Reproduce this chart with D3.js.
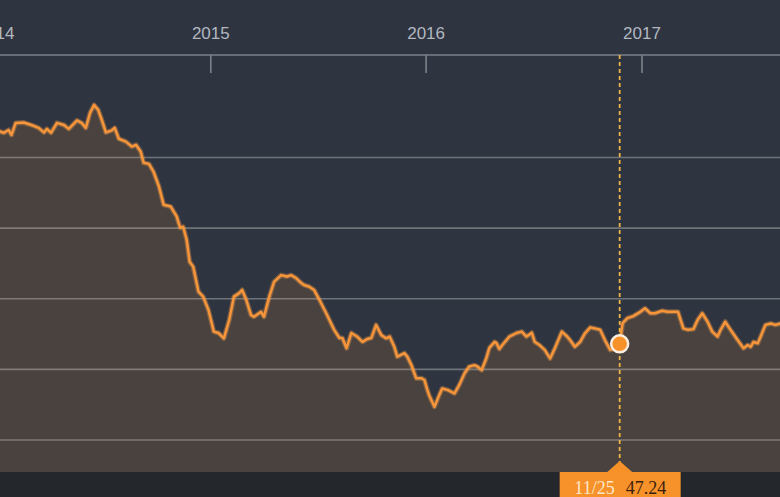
<!DOCTYPE html>
<html><head><meta charset="utf-8">
<script src="https://cdn.jsdelivr.net/npm/d3@7/dist/d3.min.js"></script>
<style>
html,body{margin:0;padding:0;background:#2d333f;overflow:hidden}
svg{display:block}
</style></head>
<body>
<svg id="chart" width="780" height="497"></svg>
<script>
const dates = ["2014-01-02","2014-01-07","2014-01-16","2014-01-24","2014-01-29","2014-02-05","2014-02-19","2014-03-04","2014-03-16","2014-03-25","2014-03-30","2014-04-06","2014-04-16","2014-04-28","2014-05-06","2014-05-20","2014-05-28","2014-06-04","2014-06-11","2014-06-18","2014-06-25","2014-07-01","2014-07-08","2014-07-17","2014-07-23","2014-07-30","2014-08-11","2014-08-21","2014-08-28","2014-09-05","2014-09-10","2014-09-19","2014-09-27","2014-10-06","2014-10-14","2014-10-26","2014-11-05","2014-11-11","2014-11-16","2014-11-22","2014-11-27","2014-12-03","2014-12-12","2014-12-20","2014-12-29",
"2015-01-07","2015-01-15","2015-01-24","2015-02-02","2015-02-10","2015-02-19","2015-02-24","2015-03-03","2015-03-11","2015-03-16","2015-03-28","2015-04-02","2015-04-11","2015-04-19","2015-05-01","2015-05-11","2015-05-18","2015-05-26","2015-06-04","2015-06-09","2015-06-18","2015-06-26","2015-07-05","2015-07-18","2015-07-30","2015-08-08","2015-08-13","2015-08-20","2015-08-28","2015-09-07","2015-09-16","2015-09-24","2015-10-01","2015-10-09","2015-10-18","2015-10-26","2015-11-01","2015-11-09","2015-11-14","2015-11-26","2015-12-01","2015-12-08","2015-12-16","2015-12-25","2015-12-30",
"2016-01-04","2016-01-07","2016-01-16","2016-01-24","2016-01-29","2016-02-07","2016-02-19","2016-02-27","2016-03-07","2016-03-15","2016-03-24","2016-03-29","2016-04-05","2016-04-13","2016-04-18","2016-04-27","2016-04-30","2016-05-05","2016-05-10","2016-05-22","2016-06-03","2016-06-12","2016-06-20","2016-06-29","2016-07-04","2016-07-12","2016-07-21","2016-07-30","2016-08-07","2016-08-19","2016-08-28","2016-09-02","2016-09-10","2016-09-19","2016-09-27","2016-10-06","2016-10-14","2016-10-23","2016-10-31","2016-11-09","2016-11-17","2016-11-25","2016-11-30","2016-12-08","2016-12-18","2016-12-30",
"2017-01-07","2017-01-16","2017-01-24","2017-02-05","2017-02-14","2017-02-24","2017-03-04","2017-03-13","2017-03-21","2017-03-30","2017-04-06","2017-04-14","2017-04-23","2017-05-01","2017-05-10","2017-05-15","2017-05-23","2017-06-01","2017-06-13","2017-06-23","2017-06-30","2017-07-05","2017-07-10","2017-07-17","2017-07-22","2017-07-30","2017-08-08","2017-08-16","2017-08-25"];

const prices = [107.3,107.5,107.0,107.8,106.4,109.8,109.9,109.2,108.4,107.1,108.1,107.0,109.8,109.2,108.1,110.5,109.8,108.4,112.6,114.9,113.5,110.7,107.1,107.6,108.4,105.3,104.5,103.1,103.6,101.7,98.5,98.2,95.9,91.8,86.6,86.1,83.3,80.1,80.4,76.7,70.5,69.1,62.0,60.6,56.8,
50.7,50.3,48.8,54.0,60.6,61.6,62.5,59.7,55.4,54.9,56.3,54.9,60.6,64.8,66.7,66.3,66.7,65.9,64.5,63.9,63.4,62.5,59.7,55.4,51.2,48.9,48.9,46.0,50.3,49.3,47.8,48.6,48.9,52.6,49.7,48.8,49.3,46.4,43.6,44.6,43.6,41.2,37.5,37.5,37.0,
34.2,32.7,29.4,32.7,34.6,34.2,33.2,35.6,38.9,40.8,41.2,40.8,39.8,43.2,46.1,47.8,47.5,45.8,46.9,49.3,50.3,50.7,49.3,50.4,47.8,46.9,45.5,43.1,46.0,50.7,49.3,48.3,46.4,47.8,50.2,51.9,51.6,51.2,48.3,45.5,46.0,47.24,53.1,54.5,55.1,56.3,
57.3,55.9,55.9,56.6,56.3,56.3,56.3,51.6,51.2,51.4,54.0,55.9,53.5,50.7,49.3,51.2,53.5,51.2,48.3,46.0,46.9,46.4,47.8,47.4,49.3,52.6,53.0,52.6,53.0];

const gridValues = [20, 40, 60, 80, 100];
const yearTicks = ["2014-01-01","2015-01-01","2016-01-01","2017-01-01"];
const hoverDate = "2016-11-25";

const W = 780, H = 497, axisY = 55, plotBottom = 472;
const parse = d3.utcParse("%Y-%m-%d");
const data = dates.map((d, i) => ({date: parse(d), value: prices[i]}));

const x = d3.scaleUtc()
  .domain([parse(yearTicks[0]), parse(yearTicks[3])])
  .range([-5, 641.5]);
const y = d3.scaleLinear().domain([20, 100]).range([440, 157.5]);

const svg = d3.select("#chart");
svg.append("rect").attr("width", W).attr("height", H).attr("fill", "#2e3440");
svg.append("rect").attr("y", plotBottom).attr("width", W).attr("height", H - plotBottom).attr("fill", "#24272c");

// area
const area = d3.area().x(d => x(d.date)).y0(plotBottom).y1(d => y(d.value));
svg.append("path").datum(data).attr("d", area).attr("fill", "#4a423f");

// gridlines
svg.append("g").selectAll("line").data(gridValues).join("line")
  .attr("x1", 0).attr("x2", W)
  .attr("y1", d => y(d)).attr("y2", d => y(d))
  .attr("stroke", "#c8c8c8").attr("stroke-opacity", 0.42).attr("stroke-width", 1.6);

// top axis
const xAxis = d3.axisBottom(x)
  .tickValues(yearTicks.map(parse))
  .tickFormat(d3.utcFormat("%Y"))
  .tickSizeInner(18).tickSizeOuter(0);
const gx = svg.append("g").attr("transform", `translate(0,${axisY})`).call(xAxis);
gx.select(".domain").remove();
gx.selectAll(".tick line").attr("stroke", "#7d828a").attr("stroke-width", 1.6);
gx.selectAll(".tick text").attr("y", -16).attr("dy", 0)
  .attr("fill", "#b3b8c0").attr("font-family", "'Liberation Sans', Arial, sans-serif").attr("font-size", 17);
svg.append("line").attr("x1", 0).attr("x2", W).attr("y1", axisY).attr("y2", axisY)
  .attr("stroke", "#7d828a").attr("stroke-width", 1.6);

// line
const line = d3.line().x(d => x(d.date)).y(d => y(d.value));
svg.append("path").datum(data).attr("d", line).attr("fill", "none")
  .attr("stroke", "#f5a04a").attr("stroke-opacity", 0.35).attr("stroke-width", 5).attr("stroke-linejoin", "round");
svg.append("path").datum(data).attr("d", line).attr("fill", "none")
  .attr("stroke", "#f7953a").attr("stroke-width", 2.5).attr("stroke-linejoin", "round");

// hover
const hd = data.find(d => +d.date === +parse(hoverDate));
const hx = x(hd.date), hy = y(hd.value);
svg.append("line").attr("x1", hx).attr("x2", hx).attr("y1", axisY).attr("y2", 462)
  .attr("stroke", "#eeb545").attr("stroke-width", 1.8).attr("stroke-dasharray", "4,3");
svg.append("circle").attr("cx", hx).attr("cy", hy).attr("r", 8.5)
  .attr("fill", "#f7922a").attr("stroke", "#fbeee0").attr("stroke-width", 2.5);

// tooltip
const tip = svg.append("g");
tip.append("rect").attr("x", hx - 60).attr("y", plotBottom).attr("width", 121).attr("height", 40).attr("fill", "#f7922a");
tip.append("path").attr("d", `M${hx - 13},${plotBottom + 0.5}L${hx},${461}L${hx + 13},${plotBottom + 0.5}Z`).attr("fill", "#f7922a");
tip.append("text").attr("x", hx - 5).attr("y", 494).attr("text-anchor", "end")
  .attr("font-family", "'Liberation Serif', 'DejaVu Serif', serif").attr("font-size", 18)
  .attr("fill", "#fde6c8").text(d3.utcFormat("%m/%d")(hd.date));
tip.append("text").attr("x", hx + 6).attr("y", 494).attr("text-anchor", "start")
  .attr("font-family", "'Liberation Serif', 'DejaVu Serif', serif").attr("font-size", 18)
  .attr("fill", "#3a1e10").text(d3.format(".2f")(hd.value));
</script>
</body></html>
